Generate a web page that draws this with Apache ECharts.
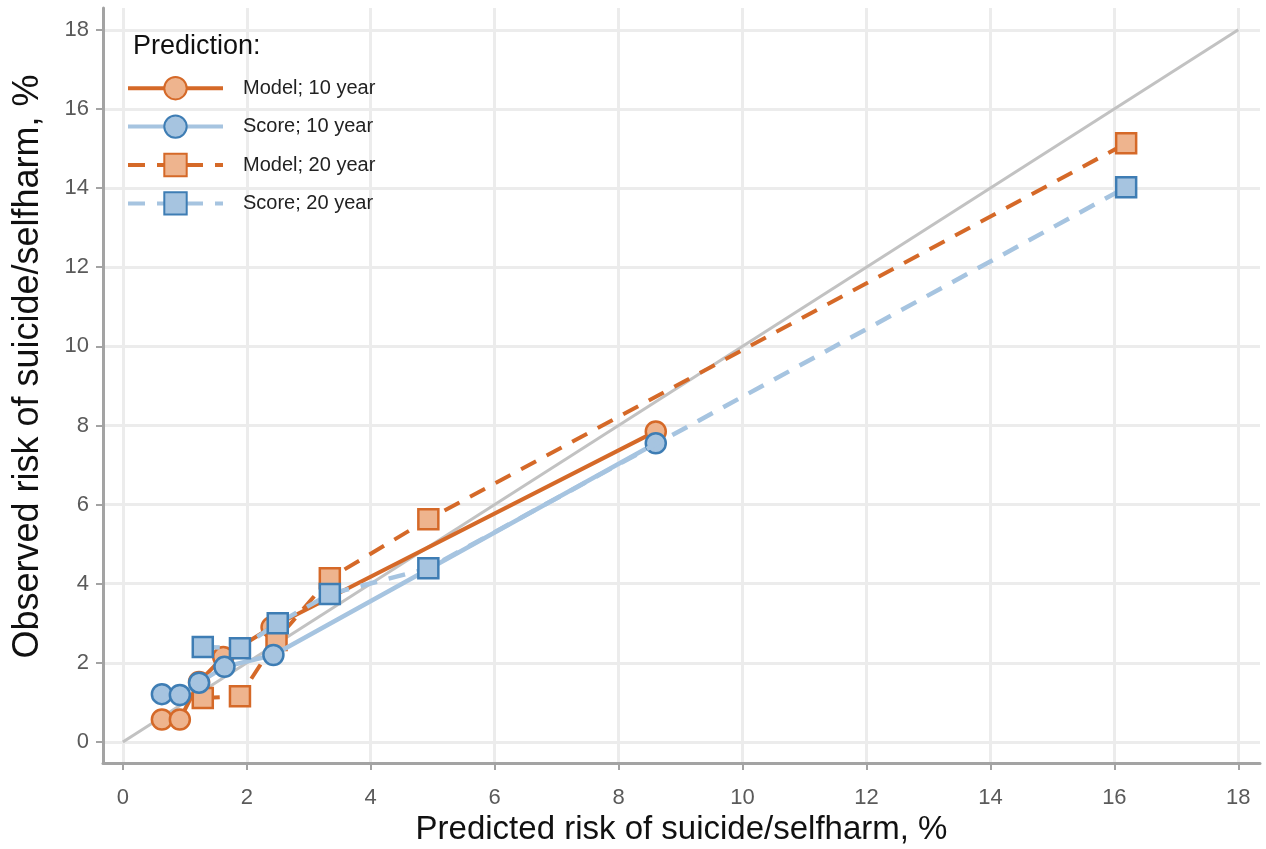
<!DOCTYPE html>
<html>
<head>
<meta charset="utf-8">
<title>Calibration</title>
<script src="https://cdn.jsdelivr.net/npm/echarts@6.0.0/dist/echarts.min.js"></script>
<style>
  html, body { margin: 0; padding: 0; background: #fff; }
  #main { width: 1266px; height: 849px; }
</style>
</head>
<body>
<div id="main"></div>
<script>
// tick positions (both axes)
var ticks = [0, 2, 4, 6, 8, 10, 12, 14, 16, 18];

// Model; 10 year
var xModel10 = [0.63, 0.92, 1.23, 1.62, 2.40, 8.60];
var yModel10 = [0.57, 0.57, 1.52, 2.15, 2.90, 7.85];
// Score; 10 year
var xScore10 = [0.63, 0.92, 1.23, 1.64, 2.43, 8.60];
var yScore10 = [1.21, 1.19, 1.50, 1.90, 2.20, 7.55];
// Model; 20 year
var xModel20 = [1.29, 1.89, 2.48, 3.34, 4.93, 16.19];
var yModel20 = [1.11, 1.16, 2.58, 4.14, 5.63, 15.13];
// Score; 20 year
var xScore20 = [1.29, 1.89, 2.50, 3.34, 4.93, 16.19];
var yScore20 = [2.40, 2.37, 3.00, 3.74, 4.39, 14.02];
// reference (perfect calibration)
var diagonal = [0, 18];

function pairs(xs, ys) {
  return xs.map(function (x, i) { return [x, ys[i]]; });
}

var orange = '#d56928';
var orangeFill = '#eeb48e';
var blueLine = '#a6c4e0';
var blueFill = '#a6c4e0';
var blueEdge = '#3e7db4';
var font = 'Liberation Sans, Arial, Helvetica, sans-serif';

function axis(name, min, max) {
  return {
    type: 'value',
    min: min,
    max: max,
    name: name,
    nameLocation: 'middle',
    nameGap: 48,
    nameTextStyle: { fontSize: 33, color: '#111', fontFamily: font },
    axisLine: { show: true, onZero: false, lineStyle: { color: '#a3a3a3', width: 3 } },
    axisTick: { show: true, length: 7, customValues: ticks, lineStyle: { color: '#a3a3a3', width: 2 } },
    axisLabel: { customValues: ticks, fontSize: 22, color: '#5a5a5a', fontFamily: font },
    splitLine: { show: true, lineStyle: { color: '#ececec', width: 3 } }
  };
}

var chartDom = document.getElementById('main');
var myChart = echarts.init(chartDom);
var option;

var xAx = axis('Predicted risk of suicide/selfharm, %', -0.32, 18.35);
xAx.axisLabel.margin = 24;
var yAx = axis('Observed risk of suicide/selfharm, %', -0.53, 18.55);
yAx.axisLabel.margin = 14;
// y title sits a bit higher and larger than the x one
yAx.nameGap = 57;
yAx.nameTextStyle.fontSize = 36;
yAx.nameTextStyle.padding = [0, 0, 0, 38];

option = {
  animation: false,
  backgroundColor: '#fff',
  textStyle: { fontFamily: font },
  title: {
    text: 'Prediction:',
    left: 128,
    top: 28,
    textStyle: { fontSize: 27, fontWeight: 'normal', color: '#111', fontFamily: font }
  },
  legend: {
    orient: 'vertical',
    left: 121,
    top: 71,
    itemWidth: 95,
    itemHeight: 28,
    itemGap: 14,
    lineStyle: { width: 4 },
    textStyle: { fontSize: 20, color: '#222', fontFamily: font, padding: [0, 0, 0, 15] },
    data: ['Model; 10 year', 'Score; 10 year', 'Model; 20 year', 'Score; 20 year']
  },
  grid: { left: 103, right: 6, top: 8, bottom: 86, containLabel: false, outerBoundsMode: 'none' },
  xAxis: xAx,
  yAxis: yAx,
  series: [
    {
      name: 'diagonal',
      type: 'line',
      data: pairs(diagonal, diagonal),
      symbol: 'none',
      silent: true,
      lineStyle: { color: '#c2c2c2', width: 3 },
      z: 1
    },
    {
      name: 'Model; 10 year',
      type: 'line',
      data: pairs(xModel10, yModel10),
      symbol: 'circle',
      symbolSize: 20,
      lineStyle: { color: orange, width: 4 },
      itemStyle: { color: orangeFill, borderColor: orange, borderWidth: 2.5 },
      z: 2
    },
    {
      name: 'Model; 20 year',
      type: 'line',
      data: pairs(xModel20, yModel20),
      symbol: 'rect',
      symbolSize: 20,
      lineStyle: { color: orange, width: 4, type: [17, 12] },
      itemStyle: { color: orangeFill, borderColor: orange, borderWidth: 2.5 },
      z: 3
    },
    {
      name: 'Score; 10 year',
      type: 'line',
      data: pairs(xScore10, yScore10),
      symbol: 'circle',
      symbolSize: 20,
      lineStyle: { color: blueLine, width: 4.5 },
      itemStyle: { color: blueFill, borderColor: blueEdge, borderWidth: 2.5 },
      z: 4
    },
    {
      name: 'Score; 20 year',
      type: 'line',
      data: pairs(xScore20, yScore20),
      symbol: 'rect',
      symbolSize: 20,
      lineStyle: { color: blueLine, width: 4.5, type: [17, 12] },
      itemStyle: { color: blueFill, borderColor: blueEdge, borderWidth: 2.5 },
      z: 5
    }
  ]
};

option && myChart.setOption(option);
</script>
</body>
</html>
